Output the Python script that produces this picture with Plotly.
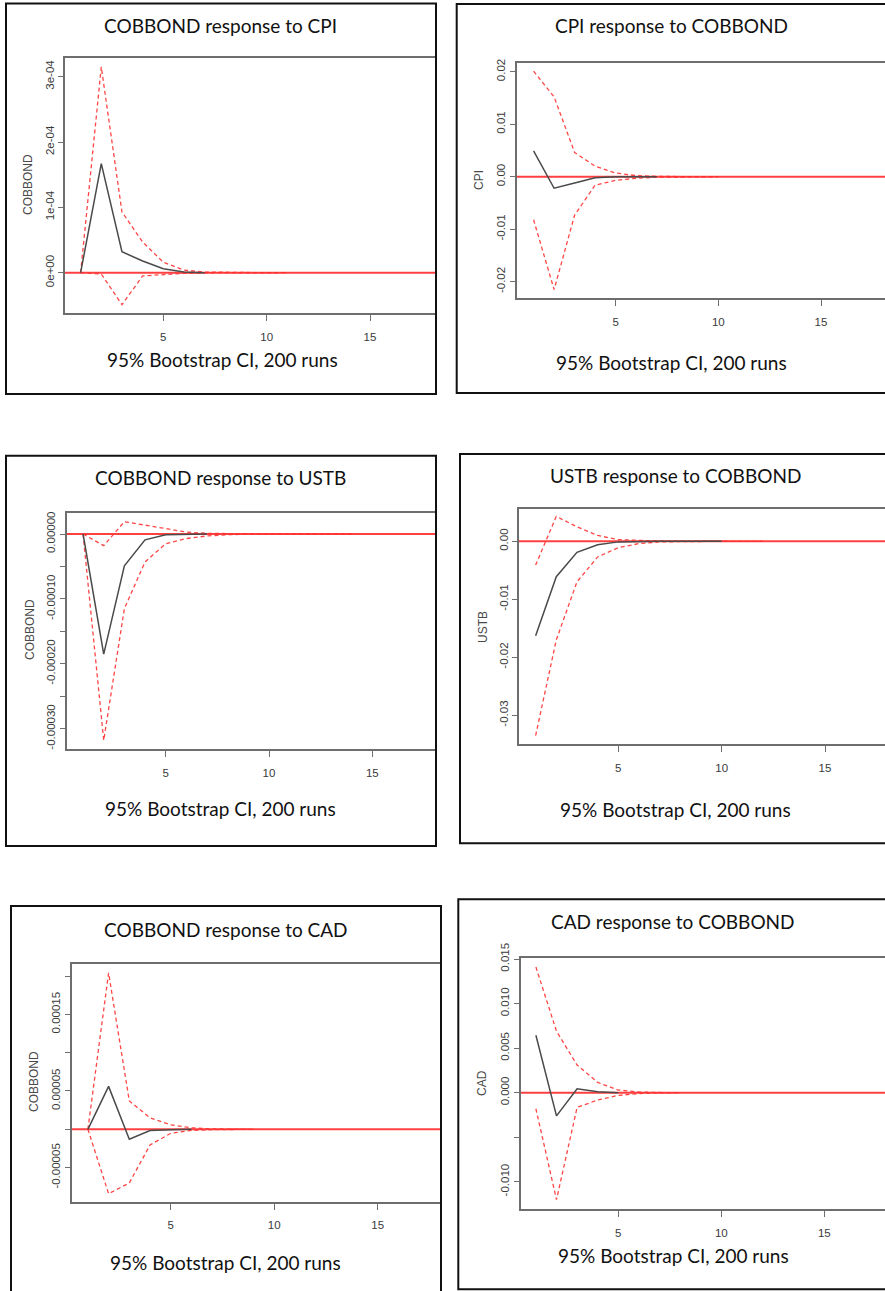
import plotly.graph_objects as go

W, H = 885, 1291

# ---------------- data ----------------
titles = ["COBBOND response to CPI", "CPI response to COBBOND",
          "COBBOND response to USTB", "USTB response to COBBOND",
          "COBBOND response to CAD", "CAD response to COBBOND"]
ylabels = ["COBBOND", "CPI", "COBBOND", "USTB", "COBBOND", "CAD"]
caption = "95% Bootstrap CI, 200 runs"

# panel 1: COBBOND response to CPI
irf1 = [0.0, 1.67e-4, 0.32e-4, 0.18e-4, 0.06e-4, 0.01e-4, 0.0]
upper1 = [0.0, 3.15e-4, 0.93e-4, 0.47e-4, 0.16e-4, 0.04e-4, 0.01e-4, 0.003e-4, 0.001e-4, 0.0, 0.0]
lower1 = [0.0, -0.02e-4, -0.49e-4, -0.05e-4, -0.03e-4, -0.01e-4, -0.004e-4, -0.001e-4, 0.0, 0.0, 0.0]

# panel 2: CPI response to COBBOND
irf2 = [0.0049, -0.0022, -0.0012, -0.0002, 0.0, 0.0, 0.0]
upper2 = [0.0201, 0.0152, 0.0046, 0.0020, 0.0007, 0.0002, 0.00005, 0.00002, 0.00001, 0.0]
lower2 = [-0.0082, -0.0215, -0.0073, -0.0016, -0.0007, -0.0003, -0.0001, -0.00003, -0.00001, 0.0]

# panel 3: COBBOND response to USTB
irf3 = [0.0, -1.85e-4, -0.49e-4, -0.09e-4, -0.01e-4, 0.0, 0.0]
upper3 = [0.0, -0.18e-4, 0.19e-4, 0.14e-4, 0.08e-4, 0.03e-4, 0.01e-4, 0.003e-4, 0.001e-4,
          0.0, 0.0, 0.0, 0.0, 0.0]
lower3 = [0.0, -3.18e-4, -1.15e-4, -0.43e-4, -0.15e-4, -0.07e-4, -0.03e-4, -0.01e-4, -0.003e-4,
          -0.001e-4, 0.0, 0.0, 0.0, 0.0]

# panel 4: USTB response to COBBOND
irf4 = [-0.0163, -0.0061, -0.0019, -0.0006, -0.0001, 0.0, 0.0, 0.0, 0.0, 0.0]
upper4 = [-0.0041, 0.0043, 0.0025, 0.0010, 0.0003, 0.0001, 0.00003, 0.00001, 0.0, 0.0, 0.0, 0.0]
lower4 = [-0.0335, -0.0170, -0.0070, -0.0027, -0.0011, -0.0004, -0.0001, -0.00003, -0.00001,
          0.0, 0.0, 0.0]

# panel 5: COBBOND response to CAD
irf5 = [0.0, 5.6e-5, -1.3e-5, -0.15e-5, -0.05e-5, 0.0]
upper5 = [0.0, 20.4e-5, 3.7e-5, 1.5e-5, 0.57e-5, 0.2e-5, 0.05e-5, 0.01e-5, 0.0]
lower5 = [0.0, -8.4e-5, -7.0e-5, -2.05e-5, -0.52e-5, -0.15e-5, -0.05e-5, -0.01e-5, 0.0]

# panel 6: CAD response to COBBOND
irf6 = [6.45e-3, -2.6e-3, 0.45e-3, 0.1e-3, 0.0]
upper6 = [14.1e-3, 6.9e-3, 3.1e-3, 1.15e-3, 0.3e-3, 0.08e-3, 0.02e-3, 0.0]
lower6 = [-1.8e-3, -12.0e-3, -1.65e-3, -0.82e-3, -0.3e-3, -0.1e-3, -0.03e-3, 0.0]

irfs = [irf1, irf2, irf3, irf4, irf5, irf6]
uppers = [upper1, upper2, upper3, upper4, upper5, upper6]
lowers = [lower1, lower2, lower3, lower4, lower5, lower6]

x_tickvals = [5, 10, 15, 20]
y_tickvals = [
    [0.0, 1e-4, 2e-4, 3e-4],
    [-0.02, -0.01, 0.0, 0.01, 0.02],
    [-0.0003, -0.00025, -0.0002, -0.00015, -0.0001, -0.00005, 0.0],
    [-0.03, -0.02, -0.01, 0.0],
    [-0.00005, 0.0, 0.00005, 0.0001, 0.00015, 0.0002],
    [-0.010, -0.005, 0.0, 0.005, 0.010, 0.015],
]
y_ticktext = [
    ["0e+00", "1e-04", "2e-04", "3e-04"],
    ["-0.02", "-0.01", "0.00", "0.01", "0.02"],
    ["-0.00030", "", "-0.00020", "", "-0.00010", "", "0.00000"],
    ["-0.03", "-0.02", "-0.01", "0.00"],
    ["-0.00005", "", "0.00005", "", "0.00015", ""],
    ["-0.010", "", "0.000", "0.005", "0.010", "0.015"],
]

# ---------------- layout geometry (pixels) ----------------
panels = [
    dict(box=(6, 3.5, 436, 394), plot=(65, 58, 435, 313),
         xref=((5, 163.3), (15, 370.0)), yref=((0.0, 272.7), (3e-4, 76.7)),
         title=(220, 26), cap=(222, 360), ylab=(28, 185)),
    dict(box=(456.7, 4, 900, 393), plot=(516.7, 62.7, 885, 298.3),
         xref=((5, 615.7), (15, 821.0)), yref=((0.0, 176.7), (0.02, 71.7)),
         title=(671, 26), cap=(671.7, 362.7), ylab=(479, 180)),
    dict(box=(6, 455.7, 436, 846), plot=(66.7, 512.7, 435, 749.3),
         xref=((5, 165.7), (15, 372.3)), yref=((0.0, 534.0), (-0.0003, 728.7)),
         title=(220, 477.3), cap=(220, 808.3), ylab=(30, 630)),
    dict(box=(460, 454, 900, 843.3), plot=(519, 509, 885, 744),
         xref=((5, 618.3), (15, 825.0)), yref=((0.0, 541.3), (-0.03, 715.3)),
         title=(675, 475), cap=(675, 809.3), ylab=(482.3, 626.7)),
    dict(box=(11, 906, 441, 1310), plot=(71.7, 964.3, 440, 1201.7),
         xref=((5, 170.7), (15, 377.7)), yref=((0.0, 1129.3), (0.0002, 976.0)),
         title=(225.8, 929), cap=(225.8, 1262.7), ylab=(33.3, 1081.7)),
    dict(box=(458.3, 899.3, 900, 1289.3), plot=(520.7, 958.3, 885, 1209.3),
         xref=((5, 618.3), (15, 824.3)), yref=((0.0, 1092.7), (0.015, 959.0)),
         title=(673.3, 921.7), cap=(673.3, 1255), ylab=(482.7, 1083.3)),
]

FRAME = "#6e6e6e"
TICKFONT = dict(family="Liberation Sans, Arial, sans-serif", size=11.5, color="#3a3a3a")
TEXTFONT = dict(family="Lato, Calibri, sans-serif", size=19, color="#111111")


def lin(v0, p0, v1, p1):
    s = (v1 - v0) / (p1 - p0)
    return lambda p: v0 + (p - p0) * s


fig = go.Figure()
layout = dict(width=W, height=H, margin=dict(l=0, r=0, t=0, b=0, pad=0), autosize=False,
              paper_bgcolor="white", plot_bgcolor="white", showlegend=False,
              shapes=[], annotations=[])

for i, pn in enumerate(panels):
    k = i + 1
    xs = "" if k == 1 else str(k)
    L, T, R, B = pn["plot"]
    fx = lin(pn["xref"][0][0], pn["xref"][0][1], pn["xref"][1][0], pn["xref"][1][1])
    fy = lin(pn["yref"][0][0], pn["yref"][0][1], pn["yref"][1][0], pn["yref"][1][1])

    layout["xaxis" + xs] = dict(
        domain=[L / W, min(R / W, 1.0)], range=[fx(L), fx(R)], anchor="y" + xs,
        tickvals=x_tickvals, ticks="outside", ticklen=6, tickwidth=1.2, tickcolor=FRAME,
        showline=True, linecolor=FRAME, linewidth=1.6, mirror=True, automargin=False,
        showgrid=False, zeroline=False, tickfont=TICKFONT, ticklabelstandoff=6,
        fixedrange=True)
    layout["yaxis" + xs] = dict(
        domain=[1 - B / H, 1 - T / H], range=[fy(B), fy(T)], anchor="x" + xs,
        tickvals=y_tickvals[i], ticktext=y_ticktext[i], tickangle=-90,
        ticks="outside", ticklen=5, tickwidth=1.2, tickcolor=FRAME, automargin=False,
        showline=True, linecolor=FRAME, linewidth=1.6, mirror=False,
        showgrid=False, zeroline=False, tickfont=TICKFONT, fixedrange=True)

    layout["shapes"].append(dict(type="line", xref="x" + xs + " domain", x0=0, x1=1,
                                 yref="y" + xs, y0=0, y1=0, layer="below",
                                 line=dict(color="rgba(255,30,30,0.85)", width=2)))
    bl, bt, br, bb = pn["box"]
    layout["shapes"].append(dict(type="rect", xref="paper", yref="paper",
                                 x0=bl / W, x1=br / W, y0=1 - bb / H, y1=1 - bt / H,
                                 line=dict(color="#111111", width=2), layer="above"))

    layout["annotations"].append(dict(text=titles[i], xref="paper", yref="paper",
                                      x=pn["title"][0] / W, y=1 - pn["title"][1] / H,
                                      xanchor="center", yanchor="middle", showarrow=False,
                                      font=TEXTFONT))
    layout["annotations"].append(dict(text=caption, xref="paper", yref="paper",
                                      x=pn["cap"][0] / W, y=1 - pn["cap"][1] / H,
                                      xanchor="center", yanchor="middle", showarrow=False,
                                      font=TEXTFONT))
    layout["annotations"].append(dict(text=ylabels[i], xref="paper", yref="paper",
                                      x=pn["ylab"][0] / W, y=1 - pn["ylab"][1] / H,
                                      xanchor="center", yanchor="middle", showarrow=False,
                                      textangle=-90,
                                      font=dict(family="Liberation Sans, Arial, sans-serif",
                                                size=12, color="#4a4a4a")))

    for band in (uppers[i], lowers[i]):
        fig.add_trace(go.Scatter(x=list(range(1, len(band) + 1)), y=band, mode="lines",
                                 xaxis="x" + xs, yaxis="y" + xs, hoverinfo="skip",
                                 line=dict(color="rgba(255,50,50,0.9)", width=1.3,
                                           dash="4px,3px")))
    fig.add_trace(go.Scatter(x=list(range(1, len(irfs[i]) + 1)), y=irfs[i], mode="lines",
                             xaxis="x" + xs, yaxis="y" + xs, hoverinfo="skip",
                             line=dict(color="#4a4a4a", width=1.5)))

fig.update_layout(**layout)
fig.write_html("out.html", config={"displayModeBar": False},
               post_script="document.body.style.margin='0px';")
